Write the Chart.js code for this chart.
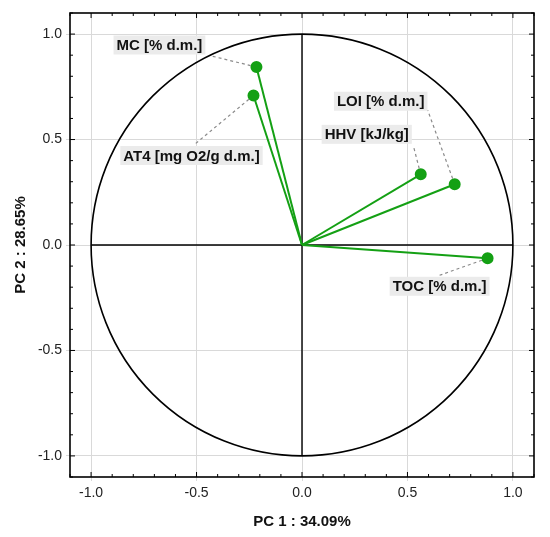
<!DOCTYPE html>
<html>
<head>
<meta charset="utf-8">
<script src="https://cdn.jsdelivr.net/npm/chart.js@4"></script>
<style>
  body { margin: 0; background: #fff; }
  #wrap { width: 550px; height: 537px; }
</style>
</head>
<body>
<div id="wrap"><canvas id="pca" width="550" height="537"></canvas></div>
<script>
/* globals Chart:false */
(() => {
  'use strict';

  // loadings
  const variables = ['MC [% d.m.]', 'AT4 [mg O2/g d.m.]', 'LOI [% d.m.]', 'HHV [kJ/kg]', 'TOC [% d.m.]'];
  const pc1 = [-0.216, -0.230, 0.724, 0.563, 0.880];
  const pc2 = [0.844, 0.709, 0.288, 0.335, -0.063];
  const tickValues = [-1.0, -0.5, 0.0, 0.5, 1.0];

  const green = '#14a014';
  const font = "'Liberation Sans', Arial, sans-serif";

  // where each label sits relative to its point (px): label centre, leader end
  const labelPlace = [
    { dx: -97, dy: -22, lx: -45, ly: -11 },
    { dx: -62, dy: 60, lx: -59, ly: 49 },
    { dx: -74, dy: -83, lx: -27, ly: -74 },
    { dx: -54, dy: -40, lx: -7, ly: -27 },
    { dx: -48, dy: 28, lx: -48, ly: 17 }
  ];

  const datasets = variables.map((name, i) => ({
    label: name,
    data: [{ x: 0, y: 0 }, { x: pc1[i], y: pc2[i] }],
    showLine: true,
    borderColor: green,
    borderWidth: 2,
    backgroundColor: green,
    pointBackgroundColor: green,
    pointBorderColor: green,
    pointRadius: [0, 5],
    pointStyle: 'circle'
  }));

  // unit circle, axes through origin, frame and inner ticks
  const framePlugin = {
    id: 'frame',
    beforeDatasetsDraw(chart) {
      const { ctx, chartArea: a, scales: { x, y } } = chart;
      const cx = x.getPixelForValue(0), cy = y.getPixelForValue(0);
      const rx = x.getPixelForValue(1) - cx, ry = cy - y.getPixelForValue(1);
      ctx.save();
      ctx.strokeStyle = '#000';
      ctx.lineWidth = 1.6;
      ctx.beginPath();
      ctx.ellipse(cx, cy, rx, ry, 0, 0, Math.PI * 2);
      ctx.stroke();
      ctx.lineWidth = 1.4;
      ctx.beginPath();
      ctx.moveTo(x.getPixelForValue(-1), cy);
      ctx.lineTo(x.getPixelForValue(1), cy);
      ctx.moveTo(cx, y.getPixelForValue(1));
      ctx.lineTo(cx, y.getPixelForValue(-1));
      ctx.stroke();

      // frame
      ctx.lineWidth = 1.6;
      ctx.strokeRect(a.left, a.top, a.right - a.left, a.bottom - a.top);

      // inner ticks every 0.1, longer at 0.5
      ctx.lineWidth = 1;
      ctx.beginPath();
      for (let k = -11; k <= 11; k++) {
        const v = k / 10;
        const len = k % 5 === 0 ? 5 : 3;
        const px = x.getPixelForValue(v);
        const py = y.getPixelForValue(v);
        ctx.moveTo(px, a.bottom); ctx.lineTo(px, a.bottom - len);
        ctx.moveTo(px, a.top); ctx.lineTo(px, a.top + len);
        ctx.moveTo(a.left, py); ctx.lineTo(a.left + len, py);
        ctx.moveTo(a.right, py); ctx.lineTo(a.right - len, py);
      }
      ctx.stroke();
      ctx.restore();
    },
    afterDatasetsDraw(chart) {
      const { ctx, scales: { x, y } } = chart;
      ctx.save();
      ctx.font = 'bold 15px ' + font;
      ctx.textAlign = 'center';
      ctx.textBaseline = 'middle';
      variables.forEach((name, i) => {
        const px = x.getPixelForValue(pc1[i]);
        const py = y.getPixelForValue(pc2[i]);
        const p = labelPlace[i];
        ctx.strokeStyle = '#8a8a8a';
        ctx.lineWidth = 1.2;
        ctx.setLineDash([3, 3]);
        ctx.beginPath();
        ctx.moveTo(px, py);
        ctx.lineTo(px + p.lx, py + p.ly);
        ctx.stroke();
        ctx.setLineDash([]);
        const w = ctx.measureText(name).width + 6;
        ctx.fillStyle = '#ebebeb';
        ctx.fillRect(px + p.dx - w / 2, py + p.dy - 9.5, w, 19);
        ctx.fillStyle = '#111';
        ctx.fillText(name, px + p.dx, py + p.dy + 1);
      });
      // redraw points on top of leaders
      ctx.fillStyle = green;
      variables.forEach((name, i) => {
        ctx.beginPath();
        ctx.arc(x.getPixelForValue(pc1[i]), y.getPixelForValue(pc2[i]), 5, 0, Math.PI * 2);
        ctx.fill();
      });
      ctx.restore();
    }
  };

  const axis = (title, fitSize, isX) => ({
    type: 'linear',
    min: -1.1,
    max: 1.1,
    afterBuildTicks(scale) {
      scale.ticks = tickValues.map(v => ({ value: v }));
    },
    afterFit(scale) {
      if (isX) scale.height = fitSize; else scale.width = fitSize;
    },
    ticks: {
      color: '#222',
      font: { family: font, size: 14 },
      padding: 4,
      callback: v => v.toFixed(1)
    },
    grid: {
      color: '#d9d9d9',
      lineWidth: 1,
      tickLength: 4,
      drawTicks: true
    },
    border: { display: false },
    title: {
      display: true,
      text: title,
      color: '#111',
      font: { family: font, size: 15, weight: 'bold' },
      padding: isX ? { top: 0, bottom: 6 } : { top: 12, bottom: 0 }
    }
  });

  const ctx1 = document.getElementById('pca');
  const pcaChart = new Chart(ctx1, {
    type: 'scatter',
    data: { datasets },
    options: {
      responsive: false,
      animation: false,
      layout: { padding: { top: 13, right: 16, left: 0, bottom: 0 } },
      plugins: {
        legend: { display: false },
        tooltip: { enabled: false }
      },
      scales: {
        x: axis('PC 1 : 34.09%', 60, true),
        y: axis('PC 2 : 28.65%', 70, false)
      }
    },
    plugins: [framePlugin]
  });
})();
</script>
</body>
</html>
